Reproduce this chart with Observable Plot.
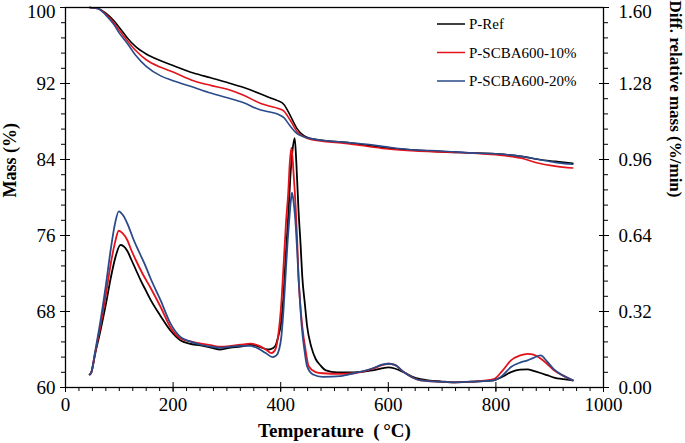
<!DOCTYPE html>
<html><head><meta charset="utf-8">
<script src="https://cdn.jsdelivr.net/npm/d3@7"></script>
<script src="https://cdn.jsdelivr.net/npm/@observablehq/plot@0.6"></script>
<style>body{margin:0;background:#fff} #chart{width:685px;height:443px}</style>
</head><body><div id="chart"></div>
<script>
const seriesNames = ["P-Ref", "P-SCBA600-10%", "P-SCBA600-20%"];
const seriesColors = ["#000000", "#e3121b", "#2a4a8a"];

// TGA (Mass %)
const tgaTemp = [45,60,75,90,100,115,130,150,177,200,238,270,301,330,363,380,394,406,418,431,443,456,480,520,560,600,650,700,750,800,850,880,910,943];
const tgaRef  = [100,99.9,99.4,98.6,97.9,96.8,95.9,95.1,94.4,93.9,93.1,92.6,92.1,91.6,90.9,90.5,90.2,89.8,88.6,87.2,86.5,86.2,86.0,85.8,85.5,85.2,85.0,84.8,84.7,84.6,84.3,84.0,83.8,83.6];
const tga10   = [100,99.9,99.3,98.4,97.6,96.5,95.5,94.5,93.7,93.2,92.3,91.8,91.4,90.8,89.9,89.6,89.4,89.1,88.1,86.9,86.4,86.1,85.9,85.7,85.4,85.1,84.9,84.8,84.7,84.5,84.1,83.6,83.3,83.1];
const tga20   = [100,99.9,99.2,98.2,97.3,96.2,95.0,93.8,92.8,92.3,91.6,91.0,90.5,90.0,89.2,89.0,88.8,88.4,87.5,86.7,86.4,86.2,86.0,85.8,85.6,85.3,85.0,84.9,84.7,84.6,84.3,84.0,83.7,83.5];

// DTG (%/min)
const dtgTempRef = [45,48,55,65,75,84,93,102,108,115,122,130,140,149,158,177,195,214,230,251,270,288,307,325,344,360,372,378,385,391,396,400,405,409,414,418,422,426,429,433,437,440,445,449,457,465,474,484,505,536,570,590,600,612,629,645,660,700,722,760,796,812,828,845,859,870,883,895,908,925,943];
const dtgRef     = [0.055,0.064,0.14,0.24,0.35,0.46,0.55,0.60,0.595,0.575,0.54,0.50,0.45,0.41,0.37,0.30,0.24,0.198,0.185,0.177,0.168,0.16,0.168,0.172,0.18,0.172,0.162,0.16,0.165,0.18,0.22,0.26,0.38,0.54,0.72,0.89,1.00,1.05,0.95,0.75,0.60,0.47,0.35,0.26,0.17,0.12,0.093,0.072,0.064,0.064,0.072,0.082,0.085,0.08,0.064,0.045,0.035,0.025,0.022,0.025,0.03,0.045,0.065,0.075,0.076,0.07,0.061,0.052,0.042,0.035,0.03];
const dtgTemp10  = [45,48,55,65,75,84,92,99,106,115,122,130,143,158,177,195,214,230,251,270,288,307,325,344,360,372,383,390,396,401,406,410,414,417,420,424,428,431,433,436,440,446,452,465,478,511,536,570,590,600,612,629,645,660,700,722,760,796,812,828,845,859,870,883,895,908,925,943];
const dtg10      = [0.055,0.064,0.145,0.26,0.39,0.52,0.61,0.66,0.65,0.62,0.58,0.54,0.48,0.42,0.338,0.254,0.206,0.195,0.185,0.178,0.172,0.175,0.18,0.185,0.175,0.16,0.145,0.16,0.23,0.35,0.54,0.70,0.82,0.95,1.01,0.90,0.75,0.60,0.47,0.36,0.26,0.16,0.09,0.065,0.06,0.057,0.06,0.078,0.095,0.10,0.095,0.065,0.042,0.03,0.024,0.022,0.025,0.035,0.07,0.114,0.135,0.142,0.138,0.122,0.10,0.072,0.05,0.03];
const dtgTemp20  = [45,48,55,65,75,84,92,99,107,115,127,139,149,158,177,195,214,230,251,270,288,307,325,344,360,372,385,392,397,401,405,409,413,416,419,421,424,428,431,433,436,439,444,449,460,478,511,536,570,590,600,612,629,645,660,700,722,760,796,812,828,845,859,870,883,895,908,925,943];
const dtg20      = [0.055,0.064,0.15,0.28,0.43,0.58,0.69,0.742,0.725,0.69,0.62,0.56,0.51,0.46,0.366,0.27,0.212,0.195,0.18,0.172,0.168,0.172,0.175,0.175,0.162,0.145,0.128,0.135,0.16,0.21,0.32,0.47,0.62,0.71,0.79,0.82,0.78,0.68,0.56,0.47,0.36,0.26,0.16,0.09,0.055,0.045,0.048,0.06,0.08,0.097,0.10,0.095,0.064,0.042,0.03,0.024,0.022,0.025,0.03,0.05,0.086,0.105,0.114,0.125,0.135,0.11,0.076,0.05,0.03];

// Axis ticks
const tempTicks = [0,200,400,600,800,1000];
const massTicks = [60,68,76,84,92,100];
const dtgTicks  = [0.00,0.32,0.64,0.96,1.28,1.60];
const tempMinor = d3.range(0, 1000.01, 25);
const massMinor = d3.range(60, 100.01, 1.6);
const dtgMinor  = d3.range(0, 1.6001, 0.064);

// DTG is drawn against the right axis: 0..1.6 maps onto the mass range 60..100
const massMin = 60, dtgToMass = 25;
const toMass = v => massMin + v * dtgToMass;

const tgaRows = [];
[[tgaRef, 0], [tga10, 1], [tga20, 2]].forEach(([vals, i]) =>
  vals.forEach((v, j) => tgaRows.push({series: seriesNames[i], T: tgaTemp[j], v})));
const dtgRows = [];
[[dtgTempRef, dtgRef, 0], [dtgTemp10, dtg10, 1], [dtgTemp20, dtg20, 2]].forEach(([ts, vals, i]) =>
  vals.forEach((v, j) => dtgRows.push({series: seriesNames[i], T: ts[j], v})));

const fontTick = 19;
const serif = "'Liberation Serif', 'Times New Roman', serif";
const topMass = massTicks[massTicks.length - 1];
const rightTicks = dtgTicks.map(toMass);
const fmtDtg = d => ((d - massMin) / dtgToMass).toFixed(2);
const chart = Plot.plot({
  width: 685, height: 443,
  marginLeft: 65, marginRight: 82, marginTop: 7, marginBottom: 56,
  style: {fontFamily: serif, fontSize: fontTick + "px", color: "#000", background: "#fff"},
  x: {domain: [0, 1000]},
  y: {domain: [60, 100]},
  color: {domain: seriesNames, range: seriesColors},
  marks: [
    Plot.line(dtgRows, {x: "T", y: d => toMass(d.v), z: "series", stroke: "series", strokeWidth: 1.8, curve: "monotone-x"}),
    Plot.line(tgaRows, {x: "T", y: "v", z: "series", stroke: "series", strokeWidth: 1.6, curve: "monotone-x"}),
    Plot.frame({stroke: "#000", strokeWidth: 1.3}),
    // bottom axis
    Plot.axisX({ticks: tempTicks, tickFormat: d => String(d), tickSize: 5, tickPadding: 5, label: null, fontSize: fontTick}),
    Plot.axisX({ticks: tempTicks, tickSize: 5, dy: -5, text: null, label: null}),
    Plot.axisX({ticks: tempMinor, tickSize: 4, text: null, label: null}),
    // left axis
    Plot.axisY({anchor: "left", ticks: massTicks, tickSize: 5, text: null, label: null}),
    Plot.axisY({anchor: "left", ticks: massTicks.filter(t => t !== topMass), tickSize: 5, tickPadding: 5, label: null, fontSize: fontTick}),
    Plot.axisY({anchor: "left", ticks: [topMass], tickSize: 0, tickPadding: 10, dy: 4, label: null, fontSize: fontTick}),
    Plot.axisY({anchor: "left", ticks: massTicks, tickSize: 5, dx: 5, text: null, label: null}),
    Plot.axisY({anchor: "left", ticks: massMinor, tickSize: 4, text: null, label: null}),
    // right axis
    Plot.axisY({anchor: "right", ticks: rightTicks, tickSize: 5, text: null, label: null}),
    Plot.axisY({anchor: "right", ticks: rightTicks.slice(0, -1), tickFormat: fmtDtg, tickSize: 5, tickPadding: 10, label: null, fontSize: fontTick}),
    Plot.axisY({anchor: "right", ticks: rightTicks.slice(-1), tickFormat: fmtDtg, tickSize: 0, tickPadding: 15, dy: 4, label: null, fontSize: fontTick}),
    Plot.axisY({anchor: "right", ticks: rightTicks, tickSize: 5, dx: -5, text: null, label: null}),
    Plot.axisY({anchor: "right", ticks: dtgMinor.map(toMass), tickSize: 4, text: null, label: null}),
    // axis titles
    Plot.text(["Mass (%)"], {frameAnchor: "left", dx: -55, rotate: -90, fontWeight: "bold", fontSize: 18}),
    Plot.text(["Diff. relative mass (%/min)"], {frameAnchor: "right", dx: 72, rotate: 90, fontWeight: "bold", fontSize: 17}),
    Plot.text(["Temperature\u00A0\u00A0(\u2009°C)"], {frameAnchor: "bottom", dy: 49, fontWeight: "bold", fontSize: 19, letterSpacing: "1.4px"})
  ]
});
document.getElementById("chart").appendChild(chart);

// legend inside the plot
const svg = d3.select(chart.tagName.toLowerCase() === "svg" ? chart : chart.querySelector("svg"));
const leg = svg.append("g").attr("font-family", serif).attr("font-size", 15).attr("text-anchor", "start");
seriesNames.forEach((name, i) => {
  const yy = 24 + i * 28.5;
  leg.append("line").attr("x1", 437).attr("x2", 465).attr("y1", yy).attr("y2", yy)
    .attr("stroke", seriesColors[i]).attr("stroke-width", 1.5);
  leg.append("text").attr("x", 469).attr("y", yy).attr("dy", "0.35em").attr("fill", "#000").text(name);
});
</script>
</body></html>
